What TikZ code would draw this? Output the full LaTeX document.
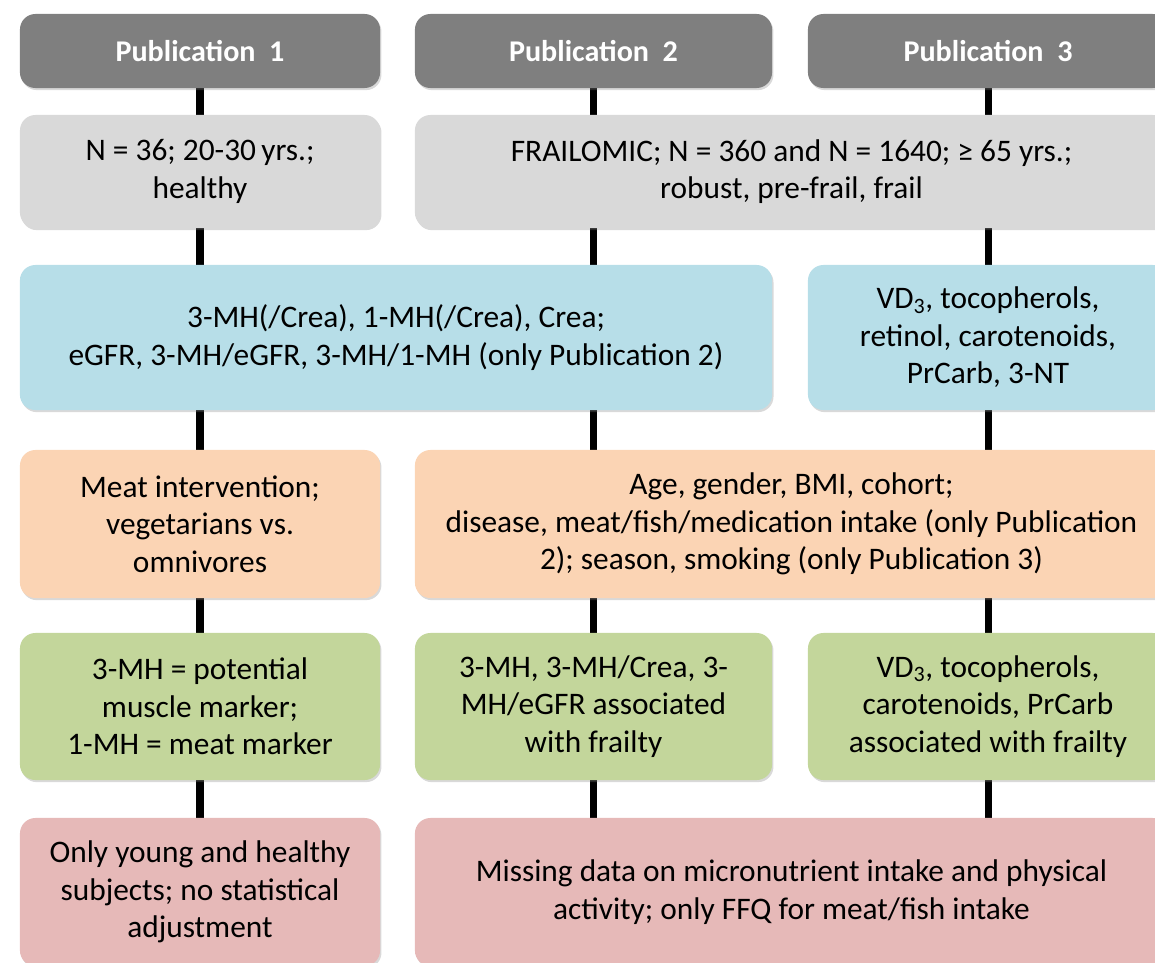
\documentclass[tikz,border=0pt]{standalone}
\usepackage{fontspec}
\setmainfont{Carlito}
\usetikzlibrary{backgrounds, shadows}
\definecolor{hdrgray}{RGB}{127,127,127}
\definecolor{popgray}{RGB}{217,217,217}
\definecolor{markblue}{RGB}{183,222,232}
\definecolor{confor}{RGB}{251,212,180}
\definecolor{resgreen}{RGB}{195,214,155}
\definecolor{limpink}{RGB}{230,185,184}

\begin{document}
\begin{tikzpicture}[
    x=0.025cm, y=-0.025cm,
    box/.style     ={rounded corners=11pt, inner sep=0pt, align=center,
                     font=\fontsize{22.3}{26.6}\selectfont,
                     drop shadow={opacity=0.3, shadow xshift=1pt, shadow yshift=-1.5pt}},
    hdrbox/.style  ={box, fill=hdrgray, text=white,
                     font=\fontsize{21.4}{26}\selectfont\bfseries,
                     minimum height=1.85cm},
    popbox/.style  ={box, fill=popgray, minimum height=2.825cm},
    markbox/.style ={box, fill=markblue, minimum height=3.625cm},
    confbox/.style ={box, fill=confor, minimum height=3.7cm},
    resbox/.style  ={box, fill=resgreen, minimum height=3.675cm},
    limbox/.style  ={box, fill=limpink, minimum height=3.7cm},
    link/.style    ={line width=5pt, black},
  ]

  % ---- page frame (boxes on the right run off the edge) ----
  \useasboundingbox (0,0) rectangle (1155,962);
  \clip (0,0) rectangle (1155,962);

  % ---- headers ----
  \node[hdrbox, minimum width=9cm]     (hdr1) at (200,51)   {Publication\ \ 1};
  \node[hdrbox, minimum width=8.925cm] (hdr2) at (593.5,51) {Publication\ \ 2};
  \node[hdrbox, minimum width=9cm]     (hdr3) at (988,51)   {Publication\ \ 3};

  % ---- study population ----
  \node[popbox, minimum width=9cm]      (pop1)  at (200,171.5)
    {N = 36; 20-30\,yrs.;\\healthy};
  \node[popbox, minimum width=18.825cm] (pop23) at (791.5,171.5)
    {FRAILOMIC; N = 360 and N = 1640; ≥ 65 yrs.;\\robust, pre-frail, frail};

  % ---- markers ----
  \node[markbox, minimum width=18.8cm] (mark12) at (396,337.5)
    {3-MH(/Crea), 1-MH(/Crea), Crea;\\eGFR, 3-MH/eGFR, 3-MH/1-MH (only Publication 2)};
  \node[markbox, minimum width=9cm]    (mark3)  at (988,337.5)
    {VD\textsubscript{3}, tocopherols,\\retinol, carotenoids,\\PrCarb, 3-NT};

  % ---- confounders ----
  \node[confbox, minimum width=9cm]      (conf1)  at (200,524)
    {Meat intervention;\\vegetarians vs.\\omnivores};
  \node[confbox, minimum width=18.825cm] (conf23) at (791.5,524)
    {Age, gender, BMI, cohort;\\disease, meat/fish/medication intake (only Publication\\2); season, smoking (only Publication 3)};

  % ---- results ----
  \node[resbox, minimum width=9cm]     (res1) at (200,706.5)
    {3-MH = potential\\muscle marker;\\1-MH = meat marker};
  \node[resbox, minimum width=8.925cm] (res2) at (593.5,706.5)
    {3-MH, 3-MH/Crea, 3-\\MH/eGFR associated\\with frailty};
  \node[resbox, minimum width=9cm]     (res3) at (988,706.5)
    {VD\textsubscript{3}, tocopherols,\\carotenoids, PrCarb\\associated with frailty};

  % ---- limitations ----
  \node[limbox, minimum width=9cm]      (lim1)  at (200,892)
    {Only young and healthy\\subjects; no statistical\\adjustment};
  \node[limbox, minimum width=18.825cm] (lim23) at (791.5,892)
    {Missing data on micronutrient intake and physical\\activity; only FFQ for meat/fish intake};

  % ---- column spines behind the boxes ----
  \begin{scope}[on background layer]
    \draw[link] (hdr1) -- (lim1);
    \draw[link] (hdr2) -- (hdr2 |- lim23);
    \draw[link] (hdr3) -- (hdr3 |- lim23);
  \end{scope}

\end{tikzpicture}
\end{document}
